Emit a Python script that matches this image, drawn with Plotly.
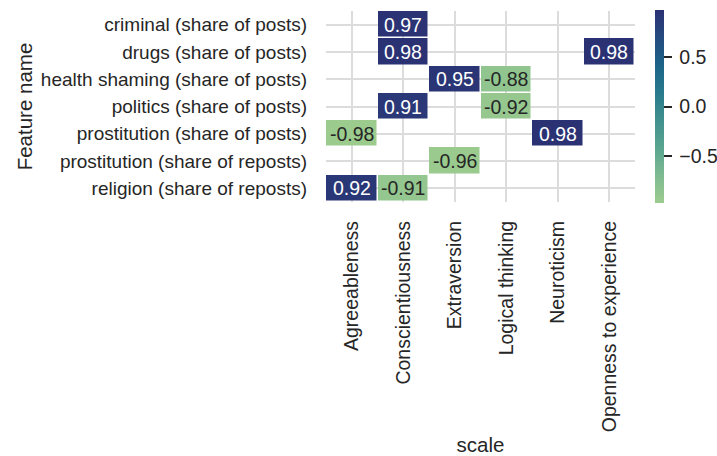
import plotly.graph_objects as go

# Correlation of feature shares with personality scales (blank = not significant)
features = [
    "criminal (share of posts)",
    "drugs (share of posts)",
    "health shaming (share of posts)",
    "politics (share of posts)",
    "prostitution (share of posts)",
    "prostitution (share of reposts)",
    "religion (share of reposts)",
]
scales = [
    "Agreeableness",
    "Conscientiousness",
    "Extraversion",
    "Logical thinking",
    "Neuroticism",
    "Openness to experience",
]
agreeableness = [None, None, None, None, -0.98, None, 0.92]
conscientiousness = [0.97, 0.98, None, 0.91, None, None, -0.91]
extraversion = [None, None, 0.95, None, None, -0.96, None]
logical_thinking = [None, None, -0.88, -0.92, None, None, None]
neuroticism = [None, None, None, None, 0.98, None, None]
openness = [None, 0.98, None, None, None, None, None]
colorbar_ticks = [-0.5, 0.0, 0.5]

columns = [agreeableness, conscientiousness, extraversion,
           logical_thinking, neuroticism, openness]
z = [[col[i] for col in columns] for i in range(len(features))]
values = [v for row in z for v in row if v is not None]
zmin, zmax = min(values), max(values)

# seaborn "crest" palette
crest = [
    [0.0, "#9ccb8e"],
    [1 / 7, "#7dba91"],
    [2 / 7, "#59a590"],
    [3 / 7, "#40908e"],
    [4 / 7, "#287a8c"],
    [5 / 7, "#1c6488"],
    [6 / 7, "#254b7f"],
    [1.0, "#2b3274"],
]

FONT = "Liberation Sans, Arial, sans-serif"
TEXT = "#262626"
TICK_SIZE = 19.5
YTICK_SIZE = 19
LABEL_SIZE = 20.5

fig = go.Figure(
    go.Heatmap(
        z=z,
        x=scales,
        y=features,
        zmin=zmin,
        zmax=zmax,
        colorscale=crest,
        xgap=1.5,
        ygap=1.5,
        hoverongaps=False,
        colorbar=dict(
            x=1.066,
            xanchor="left",
            xpad=0,
            y=0.5,
            yanchor="middle",
            len=1.01,
            ypad=0,
            thickness=9,
            outlinewidth=0,
            tickvals=colorbar_ticks,
            ticktext=["\u2009" + f"{t:.1f}".replace("-", "\u2212") for t in colorbar_ticks],
            ticks="outside",
            ticklen=8,
            tickwidth=2,
            tickcolor=TEXT,
            tickfont=dict(family=FONT, size=TICK_SIZE, color=TEXT),
        ),
    )
)

# Cell annotations: white on dark cells, dark on light cells
mid = (zmin + zmax) / 2
for i, feat in enumerate(features):
    for j, sc in enumerate(scales):
        v = z[i][j]
        if v is None:
            continue
        fig.add_annotation(
            x=sc, y=feat, text=f"{v:.2f}", showarrow=False,
            font=dict(family=FONT, size=TICK_SIZE,
                      color="white" if v > mid else TEXT),
        )

fig.update_layout(
    width=717,
    height=456,
    margin=dict(l=326, r=82, t=11, b=254, autoexpand=False),
    paper_bgcolor="white",
    plot_bgcolor="white",
    font=dict(family=FONT, color=TEXT),
    showlegend=False,
)
fig.update_xaxes(
    type="category",
    automargin=True,
    tickangle=-90,
    ticks="",
    ticklabelstandoff=14,
    tickfont=dict(family=FONT, size=TICK_SIZE, color=TEXT),
    showgrid=True,
    gridcolor="#dcdcdc",
    gridwidth=1.5,
    showline=False,
    zeroline=False,
    title=dict(text="scale", font=dict(family=FONT, size=LABEL_SIZE, color=TEXT),
               standoff=6),
)
fig.update_yaxes(
    type="category",
    automargin=True,
    autorange="reversed",
    ticks="",
    ticklabelstandoff=18,
    tickfont=dict(family=FONT, size=YTICK_SIZE, color=TEXT),
    showgrid=True,
    gridcolor="#dcdcdc",
    gridwidth=1.5,
    showline=False,
    zeroline=False,
    title=dict(text="Feature name", font=dict(family=FONT, size=LABEL_SIZE, color=TEXT),
               standoff=2),
)

fig.write_html("out.html")
